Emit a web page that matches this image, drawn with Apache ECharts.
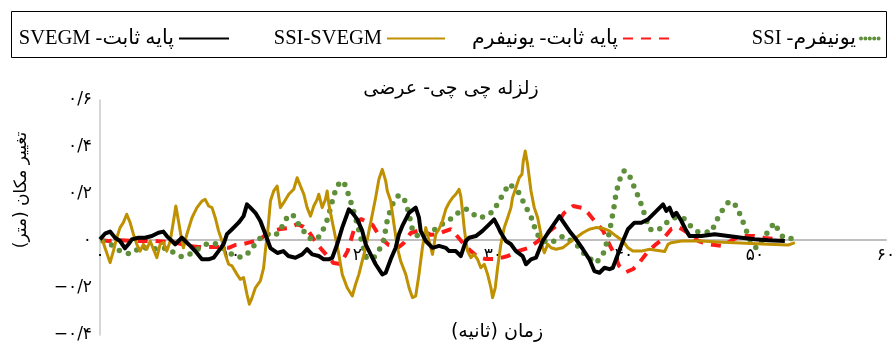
<!DOCTYPE html>
<html>
<head>
<meta charset="utf-8">
<script src="https://cdn.jsdelivr.net/npm/echarts@6/dist/echarts.min.js"></script>
<style>
html,body{margin:0;padding:0;background:#fff;}
#chart{width:894px;height:347px;}
</style>
</head>
<body>
<div id="chart"></div>
<script>
// Axis tick labels (Persian digits)
const xTickLabels = ['۰', '۱۰', '۲۰', '۳۰', '۴۰', '۵۰', '۶۰'];
const yTickLabels = ['−۰/۴', '−۰/۲', '۰', '۰/۲', '۰/۴', '۰/۶'];

// Series names as shown in the legend
const nameSvegmFixed = 'SVEGM -پایه ثابت';
const nameSsiSvegm = 'SSI-SVEGM';
const nameUniformFixed = 'پایه ثابت- یونیفرم';
const nameSsiUniform = 'SSI -یونیفرم';

// Fixed base, SVEGM excitation: time (s) and displacement (m)
const svegmFixedT = [0.00,0.38,0.77,1.15,1.53,1.91,2.17,2.43,2.93,3.44,3.96,4.46,4.84,5.10,5.49,5.74,5.99,6.25,6.50,6.89,7.27,7.78,8.29,8.67,9.05,9.43,9.69,10.08,10.58,10.96,11.22,11.48,11.86,12.24,12.62,13.01,13.54,14.00,14.38,14.92,15.43,15.81,16.20,16.70,17.08,17.47,17.73,18.11,18.49,19.00,19.26,19.64,20.02,20.28,20.66,21.04,21.55,21.81,22.19,22.57,22.82,23.08,23.59,24.10,24.35,24.48,24.87,25.38,25.88,26.40,26.65,27.16,27.54,27.93,28.18,28.69,29.20,29.71,30.09,30.35,30.60,30.99,31.37,31.75,32.26,32.52,32.90,33.28,33.54,33.79,34.30,34.81,35.07,35.32,35.83,36.34,36.86,37.36,37.74,38.13,38.51,38.89,39.15,39.53,39.92,40.30,40.80,41.32,41.83,42.33,42.98,43.23,43.48,43.74,44.00,44.38,44.76,45.01,45.91,46.92,47.95,48.97,49.98,51.01,52.28];
const svegmFixedY = [0.007,0.031,0.040,0.014,0,-0.031,-0.014,0.007,0.014,0.014,0.021,0.035,0.040,0.021,0,-0.014,0,0.014,0,-0.021,-0.043,-0.078,-0.078,-0.071,-0.043,-0.014,0.029,0.050,0.078,0.106,0.156,0.142,0.120,0.085,0.030,-0.030,-0.051,-0.043,-0.064,-0.071,-0.057,-0.035,-0.057,-0.064,-0.078,-0.078,-0.071,-0.014,0.057,0.135,0.120,0.092,0.043,-0.014,-0.057,-0.099,-0.142,-0.135,-0.078,-0.029,0.029,0.064,0.120,0.142,0.099,0.043,0,-0.029,-0.021,-0.029,-0.043,-0.043,-0.064,0,0.014,0.021,0.043,0.071,0.092,0.064,0.035,0,-0.014,-0.043,-0.064,-0.099,-0.078,-0.071,-0.035,0,0.043,0.085,0.106,0.085,0.043,0.007,-0.035,-0.078,-0.128,-0.135,-0.114,-0.120,-0.114,-0.057,0,0.050,0.078,0.078,0.092,0.120,0.156,0.128,0.142,0.106,0.120,0.085,0.043,0.021,0.021,0.029,0.021,0.014,0.007,0.003,0];

// SSI, SVEGM excitation
const ssiSvegmT = [0.13,0.38,0.77,1.02,1.28,1.53,1.78,2.04,2.30,2.55,2.81,3.06,3.31,3.57,3.83,4.08,4.34,4.59,4.84,5.10,5.36,5.61,5.79,5.99,6.25,6.37,6.63,7.02,7.40,7.78,8.03,8.29,8.55,8.80,9.05,9.31,9.56,9.82,10.08,10.46,10.71,10.96,11.22,11.40,11.61,11.86,12.24,12.49,12.62,12.83,13.01,13.26,13.52,13.77,14.02,14.41,14.79,15.05,15.30,15.56,15.81,16.07,16.32,16.58,16.70,16.96,17.21,17.34,17.47,17.72,17.98,18.23,18.49,18.87,19.26,19.51,19.76,20.02,20.28,20.53,20.79,21.04,21.29,21.55,21.81,21.93,22.19,22.44,22.70,22.95,23.34,23.59,23.85,24.10,24.35,24.61,24.87,25.12,25.38,25.63,25.88,26.14,26.40,26.65,26.91,27.16,27.41,27.54,27.67,27.80,27.93,28.06,28.31,28.56,28.82,29.07,29.33,29.59,29.84,29.97,30.17,30.35,30.60,30.86,31.12,31.37,31.49,31.75,32.00,32.21,32.31,32.46,32.64,32.90,33.15,33.41,33.66,33.79,33.92,34.18,34.43,34.81,35.32,35.83,36.34,36.86,37.36,37.87,38.39,38.89,39.40,39.92,40.30,40.67,41.32,41.95,42.59,43.10,43.36,43.61,44.38,45.91,47.18,48.45,49.73,51.01,52.54,53.04];
const ssiSvegmY = [0.014,-0.029,-0.092,-0.043,0.014,0.057,0.078,0.114,0.078,0.029,-0.014,-0.043,-0.014,-0.035,0,-0.035,-0.071,-0.014,-0.007,-0.043,0,0.085,0.149,0.085,0,-0.029,0.029,0.099,0.142,0.170,0.177,0.149,0.142,0.099,0.043,0,-0.057,-0.099,-0.106,-0.142,-0.163,-0.156,-0.227,-0.269,-0.241,-0.199,-0.170,-0.114,-0.043,0.057,0.170,0.213,0.234,0.142,0.163,0.199,0.220,0.269,0.234,0.199,0.142,0.106,0.149,0.177,0.199,0.142,0.177,0.213,0.156,0.085,0.014,-0.057,-0.142,-0.199,-0.234,-0.184,-0.142,-0.085,-0.029,0.043,0.114,0.184,0.263,0.305,0.255,0.213,0.170,0.071,-0.029,-0.085,-0.142,-0.199,-0.241,-0.234,-0.142,-0.029,0.057,0,-0.057,0.029,0.051,0.085,0.136,0.163,0.184,0.199,0.220,0.191,0.128,0.057,0,-0.043,-0.071,-0.057,-0.078,-0.114,-0.099,-0.142,-0.199,-0.241,-0.199,-0.114,-0.014,0.057,0.099,0.142,0.184,0.227,0.269,0.284,0.340,0.383,0.326,0.213,0.142,0.099,0.029,-0.029,-0.050,-0.014,-0.029,-0.035,-0.029,-0.007,0.014,0.035,0.050,0.057,0.054,0.043,0.021,0,-0.029,-0.043,-0.043,-0.035,-0.040,-0.045,-0.014,-0.007,0,0,-0.004,-0.007,-0.011,-0.014,-0.017,-0.007];

// Fixed base, uniform excitation
const uniformFixedT = [0.13,0.64,1.66,2.68,4.21,5.74,6.76,7.52,8.29,9.05,9.82,10.33,10.84,11.35,11.86,12.37,12.93,13.77,14.31,15.07,15.53,15.91,16.30,16.83,17.37,17.83,18.36,18.90,19.36,19.89,20.43,20.81,21.42,22.04,22.72,23.18,23.72,24.48,25.25,25.78,26.78,27.32,27.77,28.31,28.84,29.46,30.22,31.14,31.90,32.67,33.36,34.05,34.81,35.42,36.11,36.88,37.26,37.87,38.41,38.87,39.25,39.63,40.17,40.70,41.09,41.85,42.46,42.99,43.61,44.15,44.91,45.68,46.44,47.44,48.43,49.20,49.96,50.73,51.49,52.18];
const uniformFixedY = [0.003,0,0.003,0,0,-0.007,-0.021,-0.026,-0.026,-0.026,-0.029,-0.017,-0.014,-0.007,0,0.014,0.038,0.051,0.055,0.072,0.060,0.043,0.009,-0.030,-0.064,-0.094,-0.098,-0.043,0.043,0.094,0.081,0.068,0.013,-0.017,-0.030,-0.009,0.034,0.047,0.026,0.030,0.051,0.017,-0.013,-0.043,-0.068,-0.077,-0.077,-0.064,-0.043,-0.030,-0.004,0.030,0.064,0.119,0.149,0.140,0.119,0.077,0.043,-0.013,-0.055,-0.106,-0.132,-0.119,-0.098,-0.043,-0.013,0.009,0.051,0.060,0.034,0,-0.013,-0.021,0.009,0.021,0.021,0.013,0.009,0.004];

// SSI, uniform excitation
const ssiUniformT = [0.23,0.77,1.53,2.30,3.06,3.67,4.36,5.13,5.66,6.27,6.89,7.50,8.26,8.95,9.79,10.41,10.94,11.48,11.94,12.24,12.78,13.31,13.77,14.08,14.69,15.15,15.61,16.07,16.60,16.99,17.37,17.60,17.83,18.13,18.59,18.90,19.20,19.51,19.89,20.28,20.81,21.27,21.65,21.96,22.34,22.72,23.11,23.34,23.57,23.87,24.25,24.87,25.63,26.24,26.78,27.32,27.93,28.46,28.92,29.46,30.07,30.37,30.83,31.22,31.90,32.29,32.67,33.05,33.28,33.82,34.43,35.04,35.42,36.34,37.11,37.87,38.41,38.79,39.02,39.25,39.40,39.63,39.94,40.17,40.55,40.80,41.17,41.48,41.93,42.31,42.85,43.38,43.99,44.61,45.14,45.68,46.67,46.98,47.28,47.67,48.05,48.58,48.97,49.35,49.73,50.11,50.73,51.11,51.49,51.80,52.18,53.02];
const ssiUniformY = [0,-0.013,-0.043,-0.055,-0.030,-0.030,-0.034,-0.030,-0.051,-0.068,-0.055,-0.034,-0.009,-0.013,-0.047,-0.068,-0.068,-0.043,-0.004,0.013,0.030,0.021,0.043,0.089,0.115,0.072,0.038,0.009,0.009,0.043,0.094,0.140,0.191,0.238,0.255,0.209,0.157,0.098,0.017,-0.068,-0.077,-0.043,0,0.098,0.157,0.191,0.191,0.162,0.119,0.043,0.021,0.030,0.051,0.077,0.094,0.119,0.136,0.115,0.098,0.106,0.128,0.162,0.204,0.243,0.213,0.170,0.128,0.085,0.034,0,-0.009,0.013,0.021,-0.013,-0.064,-0.094,-0.055,0.013,0.077,0.149,0.204,0.255,0.298,0.298,0.264,0.226,0.179,0.128,0.051,0.043,0.055,0.085,0.102,0.094,0.060,0.038,0.038,0.077,0.111,0.145,0.170,0.149,0.098,0.043,-0.009,-0.030,0.017,0.051,0.077,0.043,0.013,0.009];

const pairs = (t, y) => t.map((v, i) => [v, y[i]]);

const persianFont = "'Liberation Serif', 'DejaVu Sans', serif";
const chart = echarts.init(document.getElementById('chart'), null, { renderer: 'canvas' });

function legendAt(name, right, width, extra) {
  return Object.assign({
    data: [name],
    right: right,
    top: 28,
    orient: 'horizontal',
    align: 'right',
    padding: 0,
    itemWidth: width,
    itemHeight: 14,
    itemStyle: { opacity: 0 },
    textStyle: { color: '#000', fontSize: 20.5, fontFamily: persianFont },
    selectedMode: false
  }, extra || {});
}

chart.setOption({
  animation: false,
  backgroundColor: '#ffffff',
  grid: { left: 100, right: 8, top: 100, bottom: 12, containLabel: false, outerBoundsMode: 'none' },
  legend: [
    legendAt(nameSvegmFixed, 664, 50),
    legendAt(nameSsiSvegm, 448, 58),
    legendAt(nameUniformFixed, 224, 46),
    legendAt(nameSsiUniform, 9, 22, { lineStyle: { width: 4, type: [0, 4.4], cap: 'round' } })
  ],
  graphic: [
    { type: 'rect', shape: { x: 11.5, y: 11.5, width: 875, height: 46 },
      style: { fill: 'none', stroke: '#000', lineWidth: 1 }, silent: true },
    { type: 'text', x: 451, y: 89,
      style: { text: 'زلزله چی چی- عرضی', font: "19px 'DejaVu Sans'", fill: '#000',
               align: 'center', verticalAlign: 'middle' }, silent: true },
    { type: 'text', x: 22, y: 190, rotation: Math.PI / 2,
      style: { text: 'تغییر مکان (متر)', font: "17px 'DejaVu Sans'", fill: '#000',
               align: 'center', verticalAlign: 'middle' }, silent: true },
    { type: 'text', x: 497, y: 332,
      style: { text: 'زمان (ثانیه)', font: "19px 'DejaVu Sans'", fill: '#000',
               align: 'center', verticalAlign: 'middle' }, silent: true }
  ],
  xAxis: {
    type: 'value', min: 0, max: 60, interval: 10,
    position: 'bottom',
    offset: -95,
    axisLine: { onZero: false, lineStyle: { color: '#bfbfbf', width: 2 } },
    axisTick: { show: false },
    splitLine: { show: false },
    axisLabel: {
      margin: 7, color: '#000', fontSize: 17, fontFamily: 'DejaVu Sans',
      formatter: v => xTickLabels[Math.round(v / 10)]
    }
  },
  yAxis: {
    type: 'value', min: -0.4, max: 0.6, interval: 0.2,
    axisLine: { show: true, lineStyle: { color: '#c8c8c8', width: 1.5 } },
    axisTick: { show: false },
    splitLine: { show: false },
    axisLabel: {
      margin: 8, color: '#000', fontSize: 17, fontFamily: 'DejaVu Sans',
      formatter: v => yTickLabels[Math.round((v + 0.4) / 0.2)]
    }
  },
  series: [
    { name: nameUniformFixed, type: 'line', symbol: 'none', z: 2,
      data: pairs(uniformFixedT, uniformFixedY),
      lineStyle: { color: '#ff1a1a', width: 4, type: [10, 8] } },
    { name: nameSsiUniform, type: 'line', symbol: 'none', z: 3,
      data: pairs(ssiUniformT, ssiUniformY),
      lineStyle: { color: '#5f8f3a', width: 5.5, type: [0, 9.5], cap: 'round' } },
    { name: nameSsiSvegm, type: 'line', symbol: 'none', z: 4,
      data: pairs(ssiSvegmT, ssiSvegmY),
      lineStyle: { color: '#bf9000', width: 3, join: 'round' } },
    { name: nameSvegmFixed, type: 'line', symbol: 'none', z: 5,
      data: pairs(svegmFixedT, svegmFixedY),
      lineStyle: { color: '#000000', width: 4, join: 'round' } }
  ]
});
</script>
</body>
</html>
